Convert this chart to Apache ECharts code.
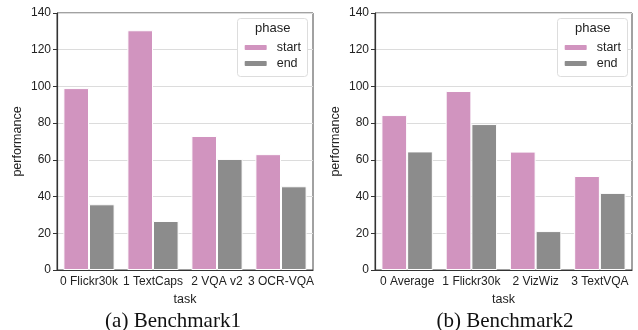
<!DOCTYPE html>
<html><head><meta charset="utf-8">
<script src="https://cdn.jsdelivr.net/npm/echarts@6/dist/echarts.min.js"></script>
<style>html,body{margin:0;padding:0;background:#fff}#c{width:638px;height:330px}</style>
</head><body><div id="c"></div>
<script>
const tasks1 = ['0 Flickr30k', '1 TextCaps', '2 VQA v2', '3 OCR-VQA'];
const start1 = [99.1, 130.6, 73.0, 63.1];
const end1 = [35.8, 26.7, 60.5, 45.6];
const tasks2 = ['0 Average', '1 Flickr30k', '2 VizWiz', '3 TextVQA'];
const start2 = [84.4, 97.5, 64.5, 51.2];
const end2 = [64.6, 79.5, 21.2, 42.0];
const yTicks = [0, 20, 40, 60, 80, 100, 120, 140];
const captions = ['(a) Benchmark1', '(b) Benchmark2'];

const pink = '#d194bf', gray = '#8c8c8c';
const sans = 'Liberation Sans';
const grids = [{left: 57, top: 13, width: 256, height: 257}, {left: 375, top: 13, width: 257, height: 257}];

function xAx(i, data) {
  return {type: 'category', gridIndex: i, data: data, name: 'task', nameLocation: 'middle', nameGap: 22,
    nameTextStyle: {fontFamily: sans, fontSize: 12.5, color: '#222'},
    axisLine: {lineStyle: {color: '#333', width: 1.2}},
    axisTick: {alignWithLabel: true, length: 4, lineStyle: {color: '#333'}},
    axisLabel: {interval: 0, fontFamily: sans, fontSize: 12, color: '#222', margin: 6}};
}
function yAx(i) {
  return {type: 'value', gridIndex: i, min: yTicks[0], max: yTicks[yTicks.length - 1], interval: 20,
    name: 'performance', nameLocation: 'middle', nameGap: 33,
    nameTextStyle: {fontFamily: sans, fontSize: 12.5, color: '#222'},
    axisLine: {show: true, lineStyle: {color: '#333', width: 1.2}},
    axisTick: {show: true, length: 4, lineStyle: {color: '#333'}},
    axisLabel: {fontFamily: sans, fontSize: 12, color: '#222', margin: 6},
    splitLine: {lineStyle: {color: '#dcdcdc'}}};
}
function bar(name, i, data, color) {
  return {type: 'bar', name: name, xAxisIndex: i, yAxisIndex: i, data: data, barGap: '0%', barCategoryGap: '20%',
    itemStyle: {color: color, borderColor: '#fff', borderWidth: 1}};
}
function legendAt(right) {
  return {orient: 'vertical', right: right, top: 41, padding: 0, itemWidth: 24, itemHeight: 7, itemGap: 3, z: 20,
    data: ['start', 'end'], textStyle: {fontFamily: sans, fontSize: 12.5, color: '#222', padding: [0, 0, 0, 4]}, selectedMode: false};
}
const capStyle = {fontFamily: 'Liberation Serif', fontSize: 21, fontWeight: 'normal', color: '#111'};
const chart = echarts.init(document.getElementById('c'));
chart.setOption({
  animation: false,
  grid: grids.map(g => Object.assign({show: true, borderColor: '#444', borderWidth: 1}, g)),
  xAxis: [xAx(0, tasks1), xAx(1, tasks2)],
  yAxis: [yAx(0), yAx(1)],
  legend: [legendAt(638 - 301), legendAt(638 - 621)],
  title: [
    {text: captions[0], left: 168, top: 306, textAlign: 'center', textStyle: capStyle},
    {text: captions[1], left: 500, top: 306, textAlign: 'center', textStyle: capStyle}
  ],
  graphic: [
    {type: 'rect', left: 237, top: 18, shape: {width: 70, height: 58, r: 3}, style: {fill: '#fff', stroke: '#ddd'}, z: 5},
    {type: 'text', left: 255, top: 22, style: {text: 'phase', font: '13px "Liberation Sans"', fill: '#222'}, z: 6},
    {type: 'rect', left: 557, top: 18, shape: {width: 70, height: 58, r: 3}, style: {fill: '#fff', stroke: '#ddd'}, z: 5},
    {type: 'text', left: 575, top: 22, style: {text: 'phase', font: '13px "Liberation Sans"', fill: '#222'}, z: 6}
  ],
  series: [bar('start', 0, start1, pink), bar('end', 0, end1, gray), bar('start', 1, start2, pink), bar('end', 1, end2, gray)]
});
</script></body></html>
